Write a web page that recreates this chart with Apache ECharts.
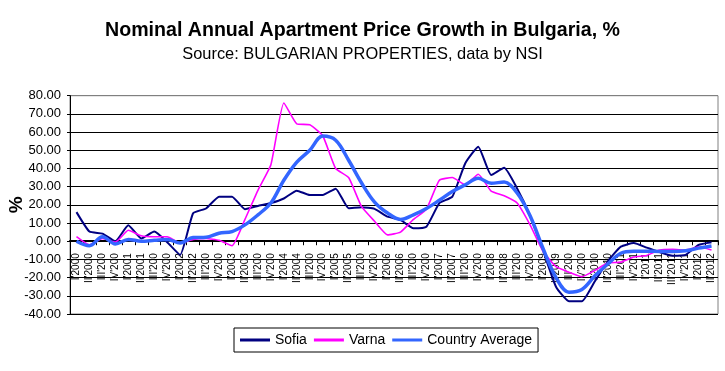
<!DOCTYPE html>
<html>
<head>
<meta charset="utf-8">
<script src="https://cdn.jsdelivr.net/npm/echarts@6/dist/echarts.min.js"></script>
<style>
html,body{margin:0;padding:0;background:#fff;}
#c{width:725px;height:371px;}
</style>
</head>
<body>
<div id="c"></div>
<script>
var categories = [
"I'2000","II'2000","III'2000","IV'2000",
"I'2001","II'2001","III'2001","IV'2001",
"I'2002","II'2002","III'2002","IV'2002",
"I'2003","II'2003","III'2003","IV'2003",
"I'2004","II'2004","III'2004","IV'2004",
"I'2005","II'2005","III'2005","IV'2005",
"I'2006","II'2006","III'2006","IV'2006",
"I'2007","II'2007","III'2007","IV'2007",
"I'2008","II'2008","III'2008","IV'2008",
"I'2009","II'2009","III'2009","IV'2009",
"I'2010","II'2010","III'2010","IV'2010",
"I'2011","II'2011","III'2011","IV'2011",
"I'2012","II'2012"
];
var sofia = [16, 5.3, 4.2, 0, 8.8, 1.5, 5.3, -0.5, -7.5, 15.4, 18, 24.5, 24.5, 17.6, 19.4, 21, 23.5, 27.8, 25.4, 25.4, 28.9, 18.1, 18.7, 17.8, 13.5, 11.7, 7.1, 8, 20.9, 24.5, 42.9, 52, 36.4, 40.4, 29, 14, -5, -25, -33, -33, -22, -11, -3, -1, -3.5, -6, -8, -7.5, -2, -0.5];
var varna = [2.5, -2, 1.5, -0.5, 6, 3, 2.5, 2.5, -1, 1, 1.5, 0.5, -2.5, 12, 28, 42, 76, 64.5, 64, 58, 40, 35, 19, 11, 3.5, 5, 12, 17.6, 33.5, 35, 31, 36.8, 27.5, 25, 21, 9, -5.5, -14, -17, -19.5, -16, -12, -11.5, -8.7, -7.8, -4.8, -4.5, -4.8, -3.2, -4.8];
var countryAverage = [0, -2.5, 2.5, -1.5, 1, 0, 0.5, 1, -1, 2, 2.2, 4.4, 5.3, 9, 14.5, 21, 33.5, 43.5, 50, 57.8, 55.5, 44.5, 32, 21.5, 15.5, 12, 14.5, 18, 22.5, 27.3, 31, 34.6, 31.9, 32.5, 26.5, 14, -4, -20, -28, -26.5, -19, -12.5, -6.6, -5.5, -5.5, -5.6, -5.6, -5.2, -3.8, -2.6];
var titleText = 'Nominal Annual Apartment Price Growth in Bulgaria, %';
var subText = 'Source: BULGARIAN PROPERTIES, data by NSI';

var FONT = 'Liberation Sans, Arial, sans-serif';
var gridColors = [];
for (var k = 0; k < 12; k++) gridColors.push('#000');
gridColors.push('#808080');

var GRID_TOP = 95.7, GRID_BOTTOM = 57, H = 371;
var plotH = H - GRID_TOP - GRID_BOTTOM;
var zeroFromBottom = plotH * 40 / 120;

var chart = echarts.init(document.getElementById('c'), null, {renderer: 'canvas'});
chart.setOption({
  backgroundColor: '#fff',
  animation: false,
  title: [
    {text: titleText, left: 'center', top: 16,
     textStyle: {fontFamily: FONT, fontSize: 19.6, fontWeight: 'bold', color: '#000'}},
    {text: subText, left: 'center', top: 41,
     textStyle: {fontFamily: FONT, fontSize: 16.4, fontWeight: 'normal', color: '#000'}}
  ],
  legend: {
    left: 234, top: 328,
    orient: 'horizontal',
    icon: 'rect', itemWidth: 30, itemHeight: 3, itemGap: 7,
    borderColor: '#000', borderWidth: 1,
    padding: [5, 6, 5, 6],
    textStyle: {fontFamily: FONT, fontSize: 14, color: '#000'},
    data: ['Sofia', 'Varna', 'Country Average']
  },
  grid: {left: 70, right: 7, top: GRID_TOP, bottom: GRID_BOTTOM, show: true, borderColor: '#808080', borderWidth: 1,
         containLabel: false, outerBoundsMode: 'none'},
  xAxis: {
    type: 'category',
    data: categories,
    boundaryGap: true,
    position: 'bottom',
    offset: -zeroFromBottom,
    axisLine: {onZero: false, lineStyle: {color: '#000', width: 2}},
    axisTick: {show: true, interval: 0, length: 4, lineStyle: {color: '#000', width: 1}},
    axisLabel: {interval: 0, rotate: 90, margin: 12, fontFamily: FONT, fontSize: 10, color: '#000',
      width: 33.2, overflow: 'truncate', ellipsis: ''},
    splitLine: {show: false}
  },
  yAxis: {
    type: 'value', min: -40, max: 80, interval: 10,
    name: '%', nameLocation: 'middle', nameRotate: 90, nameGap: 44, nameMoveOverlap: false,
    nameTextStyle: {fontFamily: FONT, fontSize: 19, fontWeight: 'bold', color: '#000'},
    axisLine: {show: true, lineStyle: {color: '#000', width: 1}},
    axisTick: {show: true, length: 3, lineStyle: {color: '#000'}},
    axisLabel: {margin: 9, fontFamily: FONT, fontSize: 13, color: '#000',
      formatter: function (v) { return v.toFixed(2); }},
    splitLine: {show: true, lineStyle: {color: gridColors, width: 1}}
  },
  series: [
    {name: 'Sofia', type: 'line', data: sofia, showSymbol: false, smooth: 0.15,
     lineStyle: {color: '#000080', width: 2}, itemStyle: {color: '#000080'}},
    {name: 'Varna', type: 'line', data: varna, showSymbol: false, smooth: 0.15,
     lineStyle: {color: '#FF00FF', width: 1.6}, itemStyle: {color: '#FF00FF'}},
    {name: 'Country Average', type: 'line', data: countryAverage, showSymbol: false, smooth: 0.35,
     lineStyle: {color: '#3366FF', width: 3.5}, itemStyle: {color: '#3366FF'}}
  ]
});
</script>
</body>
</html>
